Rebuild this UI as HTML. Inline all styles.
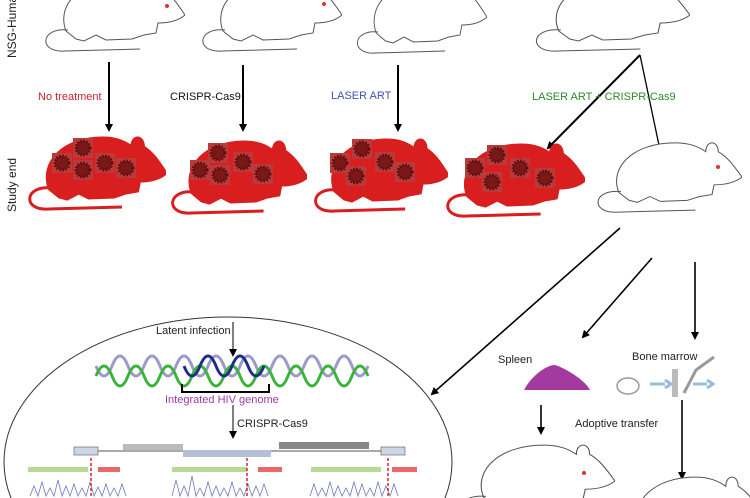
<!DOCTYPE html>
<html><head><meta charset="utf-8"><style>
html,body{margin:0;padding:0;background:#fff;overflow:hidden;width:750px;height:498px}
svg{display:block;font-family:"Liberation Sans",sans-serif}
</style></head><body>
<svg width="750" height="498" viewBox="0 0 750 498" overflow="hidden" xmlns="http://www.w3.org/2000/svg">
<defs>
<symbol id="m" viewBox="0 0 145 80" preserveAspectRatio="none">
<path d="M26,56 C16,30 40,5 80,5 C95,5 103,9 110,14 C110,2 122,2 122,14 C132,20 138,30 145,40 C138,46 128,48 118,48 L116,58 L104,60 L92,64 L66,65 L56,60 L44,66 L36,64 Z"/>
<path d="M28,55 C0,52 -2,78 25,76 L100,74" fill="none"/>
</symbol>
<marker id="a" markerWidth="8" markerHeight="8" refX="6" refY="4" orient="auto" markerUnits="userSpaceOnUse"><path d="M0,0 L8,4 L0,8 Z" fill="#000"/></marker>
<g id="v"><rect x="-10" y="-10" width="20" height="20" fill="#b83a3a"/><circle r="7" fill="#7a1818" stroke="#5a0e0e" stroke-width="3" stroke-dasharray="1.5 1.5"/></g>
</defs>
<text transform="translate(16,58) rotate(-90)" font-size="12" fill="#222">NSG-Human</text>
<text transform="translate(16,212) rotate(-90)" font-size="12" fill="#222">Study end</text>
<g fill="#fff" stroke="#555" stroke-width="1">
<use href="#m" x="40" y="-25" width="145" height="80"/>
<use href="#m" x="197" y="-25" width="145" height="80"/>
<use href="#m" x="352" y="-23" width="135" height="80"/>
<use href="#m" x="530" y="-25" width="160" height="80"/>
</g>
<g fill="#d33"><circle cx="167" cy="6" r="2"/><circle cx="324" cy="4" r="2"/></g>
<g stroke="#000" stroke-width="2" marker-end="url(#a)">
<line x1="109" y1="62" x2="109" y2="130"/>
<line x1="243" y1="65" x2="243" y2="130"/>
<line x1="398" y1="65" x2="398" y2="130"/>
<line x1="640" y1="55" x2="548" y2="148"/>
<line x1="640" y1="55" x2="660" y2="150" stroke-width="1.3"/>
</g>
<text x="38" y="100" font-size="11" fill="#c4242e">No treatment</text>
<text x="170" y="100" font-size="11" fill="#111">CRISPR-Cas9</text>
<text x="331" y="99" font-size="11" fill="#4050b0">LASER ART</text>
<text x="532" y="100" font-size="11" fill="#2a8a2a">LASER ART + CRISPR-Cas9</text>
<g fill="#d81e1e" stroke="#d81e1e" stroke-width="3">
<use href="#m" x="24" y="133" width="142" height="80"/>
<use href="#m" x="167" y="137" width="140" height="80"/>
<use href="#m" x="310" y="135" width="138" height="80"/>
<use href="#m" x="442" y="140" width="143" height="80"/>
</g>
<g fill="#fff" stroke="#555"><use href="#m" x="592" y="138" width="150" height="78"/></g>
<circle cx="718" cy="167" r="2" fill="#d33"/>
<g>
<use href="#v" x="62" y="163"/><use href="#v" x="83" y="148"/><use href="#v" x="83" y="170"/><use href="#v" x="105" y="163"/><use href="#v" x="126" y="168"/>
<use href="#v" x="200" y="170"/><use href="#v" x="218" y="153"/><use href="#v" x="220" y="175"/><use href="#v" x="243" y="162"/><use href="#v" x="263" y="174"/>
<use href="#v" x="340" y="163"/><use href="#v" x="362" y="149"/><use href="#v" x="356" y="176"/><use href="#v" x="385" y="162"/><use href="#v" x="405" y="172"/>
<use href="#v" x="475" y="168"/><use href="#v" x="497" y="155"/><use href="#v" x="492" y="182"/><use href="#v" x="520" y="168"/><use href="#v" x="545" y="178"/>
</g>
<g stroke="#000" stroke-width="1.6" marker-end="url(#a)">
<line x1="620" y1="228" x2="432" y2="394"/>
<line x1="652" y1="258" x2="583" y2="337"/>
<line x1="695" y1="262" x2="695" y2="338"/>
<line x1="541" y1="405" x2="541" y2="433"/>
<line x1="682" y1="400" x2="682" y2="478"/>
</g>
<text x="498" y="363" font-size="11" fill="#222">Spleen</text>
<path d="M524,390 C530,378 545,365 555,365 C565,368 585,380 590,390 Z" fill="#a33aa0"/>
<text x="632" y="360" font-size="11" fill="#222">Bone marrow</text>
<ellipse cx="628" cy="386" rx="11" ry="8" fill="none" stroke="#99a" stroke-width="1.5"/>
<path d="M650,384 L665,384 M665,380 L671,384 L665,388 M693,384 L707,384 M707,380 L713,384 L707,388" stroke="#9bd" stroke-width="3" fill="none"/>
<rect x="672" y="369" width="6" height="28" fill="#bbb"/><path d="M684,393 L696,370 L714,357" stroke="#999" stroke-width="3" fill="none"/>
<text x="575" y="427" font-size="11" fill="#222">Adoptive transfer</text>
<g fill="#fff" stroke="#555"><use href="#m" x="455" y="440" width="160" height="82"/><use href="#m" x="612" y="472" width="150" height="82"/></g>
<circle cx="584" cy="473" r="2" fill="#d33"/>
<ellipse cx="228" cy="462" rx="224" ry="145" fill="none" stroke="#333" stroke-width="1"/>
<text x="156" y="334" font-size="11" fill="#222">Latent infection</text>
<g stroke="#000" stroke-width="1" marker-end="url(#a)"><line x1="233" y1="322" x2="233" y2="355"/><line x1="233" y1="405" x2="233" y2="437"/></g>
<path d="M96,366 q8,20 16,0 q8,-20 16,0 q8,20 16,0 q8,-20 16,0 q8,20 16,0 q8,-20 16,0 q8,20 16,0 q8,-20 16,0 q8,20 16,0 q8,-20 16,0 q8,20 16,0 q8,-20 16,0 q8,20 16,0 q8,-20 16,0 q8,20 16,0 q8,-20 16,0 q8,20 16,0" fill="none" stroke="#9a98cc" stroke-width="3"/>
<path d="M96,376 q8,-20 16,0 q8,20 16,0 q8,-20 16,0 q8,20 16,0 q8,-20 16,0 q8,20 16,0 q8,-20 16,0 q8,20 16,0 q8,-20 16,0 q8,20 16,0 q8,-20 16,0 q8,20 16,0 q8,-20 16,0 q8,20 16,0 q8,-20 16,0 q8,20 16,0 q8,-20 16,0" fill="none" stroke="#3cb43c" stroke-width="3"/>
<path d="M184,366 q8,20 16,0 q8,-20 16,0 q8,20 16,0 q8,-20 16,0 q8,20 16,0" fill="none" stroke="#1d2e8a" stroke-width="3"/>
<path d="M182,384 L182,392 L269,392 L269,384" fill="none" stroke="#000" stroke-width="2"/>
<text x="165" y="403" font-size="11" fill="#a03aa0">Integrated HIV genome</text>
<text x="237" y="427" font-size="11" fill="#222">CRISPR-Cas9</text>
<line x1="75" y1="451" x2="400" y2="451" stroke="#555" stroke-width="1"/>
<rect x="74" y="447" width="24" height="8" fill="#cdd6e6" stroke="#555" stroke-width=".6"/>
<rect x="381" y="447" width="24" height="8" fill="#cdd6e6" stroke="#555" stroke-width=".6"/>
<rect x="123" y="444" width="60" height="6" fill="#bbb"/><rect x="183" y="450" width="88" height="7" fill="#b5c0d4"/><rect x="279" y="442" width="90" height="7" fill="#888"/>
<g fill="#9c6" opacity=".7"><rect x="28" y="467" width="60" height="5"/><rect x="172" y="467" width="75" height="5"/><rect x="311" y="467" width="70" height="5"/></g>
<g fill="#e66"><rect x="98" y="467" width="22" height="5"/><rect x="258" y="467" width="24" height="5"/><rect x="392" y="467" width="25" height="5"/></g>
<g fill="none" stroke="#6a7ac0" stroke-width=".8"><path d="M30,496 l4,-10 4,10 4,-14 4,14 4,-8 4,8 4,-16 4,16 4,-10 4,10 4,-12 4,12 4,-8 4,8 4,-14 4,14 4,-9 4,9 4,-12 4,12 4,-8 4,8 4,-12 4,12"/><path d="M172,496 l4,-16 4,16 4,-10 4,10 4,-20 4,20 4,-8 4,8 4,-14 4,14 4,-10 4,10 4,-8 4,8 4,-14 4,14 4,-8 4,8 4,-12 4,12 4,-10 4,10 4,-12 4,12"/><path d="M310,496 l4,-12 4,12 4,-8 4,8 4,-14 4,14 4,-10 4,10 4,-8 4,8 4,-14 4,14 4,-12 4,12 4,-8 4,8 4,-14 4,14 4,-10 4,10 4,-12 4,12"/></g>
<g stroke="#d22" stroke-width="1.5" stroke-dasharray="3 2"><line x1="91" y1="458" x2="91" y2="498"/><line x1="247" y1="458" x2="247" y2="498"/><line x1="388" y1="458" x2="388" y2="498"/></g>
</svg>
</body></html>
